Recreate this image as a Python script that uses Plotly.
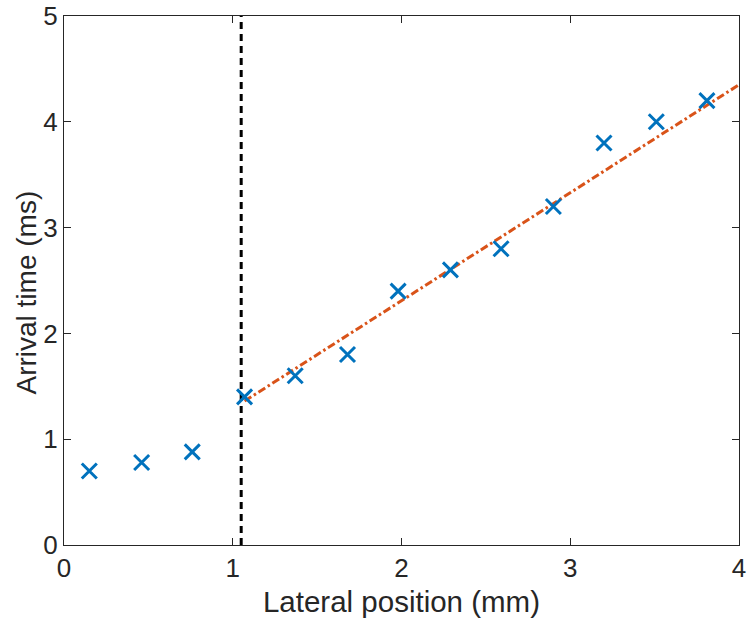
import plotly.graph_objects as go

# Data
pos_mm = [0.15, 0.46, 0.76, 1.07, 1.37, 1.68, 1.98, 2.29, 2.59, 2.90, 3.20, 3.51, 3.81]
arrival_ms = [0.70, 0.78, 0.88, 1.40, 1.60, 1.80, 2.40, 2.60, 2.80, 3.20, 3.80, 4.00, 4.20]

fit_x = [1.07, 4.0]
fit_y = [1.36, 4.35]

boundary_x = [1.05, 1.05]
boundary_y = [0, 5]

x_ticks = [0, 1, 2, 3, 4]
y_ticks = [0, 1, 2, 3, 4, 5]

x_label = "Lateral position (mm)"
y_label = "Arrival time (ms)"

axis_color = "#262626"
font_family = "Liberation Sans, Arial, sans-serif"

fig = go.Figure()

fig.add_trace(go.Scatter(
    x=boundary_x, y=boundary_y, mode="lines",
    line=dict(color="black", width=3, dash="7px,5px"),
    showlegend=False, hoverinfo="skip",
))

fig.add_trace(go.Scatter(
    x=fit_x, y=fit_y, mode="lines",
    line=dict(color="#D95319", width=3, dash="8px,3px,2.5px,3px"),
    showlegend=False,
))

fig.add_trace(go.Scatter(
    x=pos_mm, y=arrival_ms, mode="markers",
    marker=dict(symbol="x-thin", size=15,
                line=dict(width=3, color="#0072BD"), color="#0072BD"),
    showlegend=False,
))

axis_common = dict(
    showgrid=False, zeroline=False, automargin=False,
    showline=True, linecolor=axis_color, linewidth=1,
    mirror="allticks", ticks="inside", ticklen=7, tickwidth=1,
    tickcolor=axis_color, ticklabeloverflow="allow",
    tickfont=dict(family=font_family, size=26, color=axis_color),
)

fig.update_layout(
    width=750, height=626,
    margin=dict(l=64, r=11, t=16, b=81),
    paper_bgcolor="white", plot_bgcolor="white",
    xaxis=dict(range=[0, 4], tickvals=x_ticks,
               title=dict(text=x_label, standoff=9,
                          font=dict(family=font_family, size=29.5, color=axis_color)),
               **axis_common),
    yaxis=dict(range=[0, 5], tickvals=y_ticks, **axis_common),
    annotations=[dict(
        text=y_label, textangle=-90, showarrow=False,
        xref="paper", yref="paper", x=0, y=0.5,
        xanchor="center", yanchor="middle", xshift=-38, yshift=-12,
        font=dict(family=font_family, size=28, color=axis_color),
    )],
)

fig.write_html("out.html", config={"displayModeBar": False},
               post_script="document.body.style.margin='0';")
